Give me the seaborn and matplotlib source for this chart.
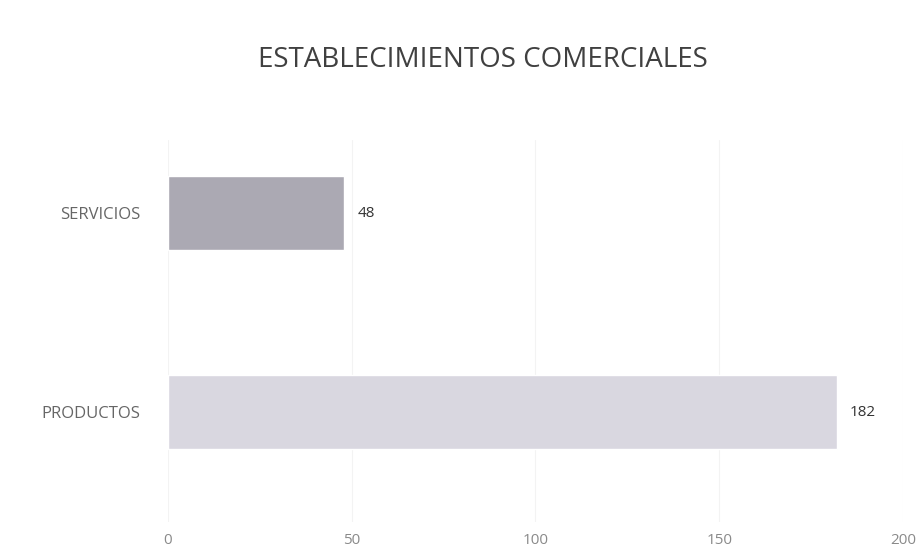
import matplotlib
matplotlib.use("Agg")
import matplotlib.pyplot as plt
import seaborn as sns
import pandas as pd

categories = ["SERVICIOS", "PRODUCTOS"]
values = [48, 182]
bar_colors = ["#aaa7b5", "#d8d5e2"]
x_ticks = [0, 50, 100, 150, 200]

df = pd.DataFrame({"categoria": categories, "total": values})

sns.set_theme(style="white")
plt.rcParams["font.family"] = ["Open Sans", "DejaVu Sans"]

fig = plt.figure(figsize=(9.2, 5.53), dpi=100)
ax = fig.add_axes([168 / 920, 1 - 522 / 553, (903 - 168) / 920, (522 - 140) / 553])

sns.barplot(data=df, y="categoria", x="total", hue="categoria",
            palette=bar_colors, orient="h", width=0.37, legend=False, ax=ax)

for i, v in enumerate(values):
    ax.text(v + 3.5, i, str(v), va="center", ha="left", fontsize=11, color="#333333")

ax.set_xlim(0, 200)
ax.set_ylim(1 + (522 - 412) / 199, -0.367)
ax.set_xticks(x_ticks)
ax.set_xticklabels([str(t) for t in x_ticks], fontsize=11, color="#8a8a8a")
ax.tick_params(axis="x", length=0, pad=8)
ax.tick_params(axis="y", length=0, pad=20, labelsize=12, labelcolor="#666666")
ax.set_xlabel("")
ax.set_ylabel("")
ax.xaxis.grid(True, color="#f3f3f3", linewidth=0.8)
ax.set_axisbelow(True)
for s in ax.spines.values():
    s.set_visible(False)

fig.text(483 / 920, 1 - 60 / 553, "ESTABLECIMIENTOS COMERCIALES", ha="center", va="center",
         fontsize=20, color="#404040")

fig.savefig("out.png", dpi=100, facecolor="white")
